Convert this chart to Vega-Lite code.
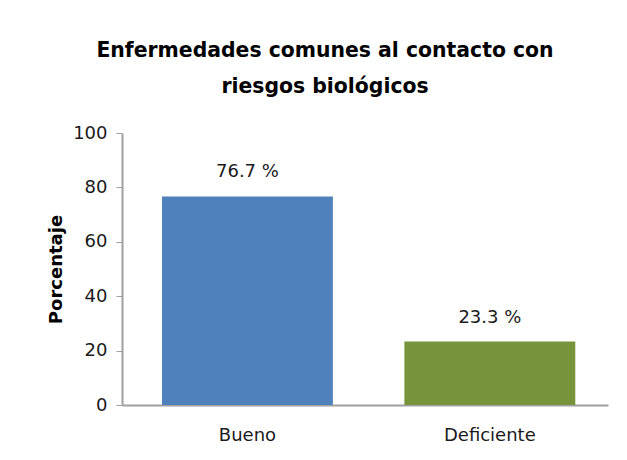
{
  "$schema": "https://vega.github.io/schema/vega-lite/v6.json",
  "autosize": "none",
  "width": 486,
  "height": 272,
  "padding": {"left": 122, "top": 133, "right": 19, "bottom": 55},
  "background": "#ffffff",
  "config": {
    "view": {"stroke": null},
    "font": "DejaVu Sans",
    "axis": {"labelFont": "DejaVu Sans", "titleFont": "DejaVu Sans", "domainColor": "#a0a0a0", "tickColor": "#a0a0a0"}
  },
  "title": {
    "text": ["Enfermedades comunes al contacto con", "riesgos biológicos"],
    "font": "DejaVu Sans",
    "fontSize": 20.4,
    "fontWeight": "bold",
    "color": "#000000",
    "anchor": "middle",
    "dx": -40,
    "offset": 27,
    "lineHeight": 36
  },
  "data": {
    "values": [
      {"categoria": "Bueno", "porcentaje": 76.7, "etiqueta": "76.7 %"},
      {"categoria": "Deficiente", "porcentaje": 23.3, "etiqueta": "23.3 %"}
    ]
  },
  "encoding": {
    "x": {
      "field": "categoria",
      "type": "nominal",
      "sort": null,
      "scale": {"paddingInner": 0.295, "paddingOuter": 0.15, "align": 0.55},
      "axis": {"title": null, "labelAngle": 0, "labelFontSize": 18, "labelColor": "#1a1a1a", "ticks": false, "labelPadding": 21, "domainWidth": 2}
    },
    "y": {
      "field": "porcentaje",
      "type": "quantitative",
      "scale": {"domain": [0, 100]},
      "axis": {"title": "Porcentaje", "titleFontSize": 18, "titleFontWeight": "bold", "titleColor": "#000000", "titlePadding": 7, "values": [0, 20, 40, 60, 80, 100], "labelFontSize": 18, "labelColor": "#1a1a1a", "tickSize": 6, "labelPadding": 9, "grid": false, "domainWidth": 2}
    }
  },
  "layer": [
    {
      "mark": {"type": "bar"},
      "encoding": {
        "color": {
          "field": "categoria",
          "type": "nominal",
          "scale": {"domain": ["Bueno", "Deficiente"], "range": ["#4f81bd", "#77933c"]},
          "legend": null
        }
      }
    },
    {
      "mark": {"type": "text", "baseline": "bottom", "dy": -15, "fontSize": 18, "color": "#1a1a1a", "font": "DejaVu Sans"},
      "encoding": {"text": {"field": "etiqueta"}}
    }
  ]
}
